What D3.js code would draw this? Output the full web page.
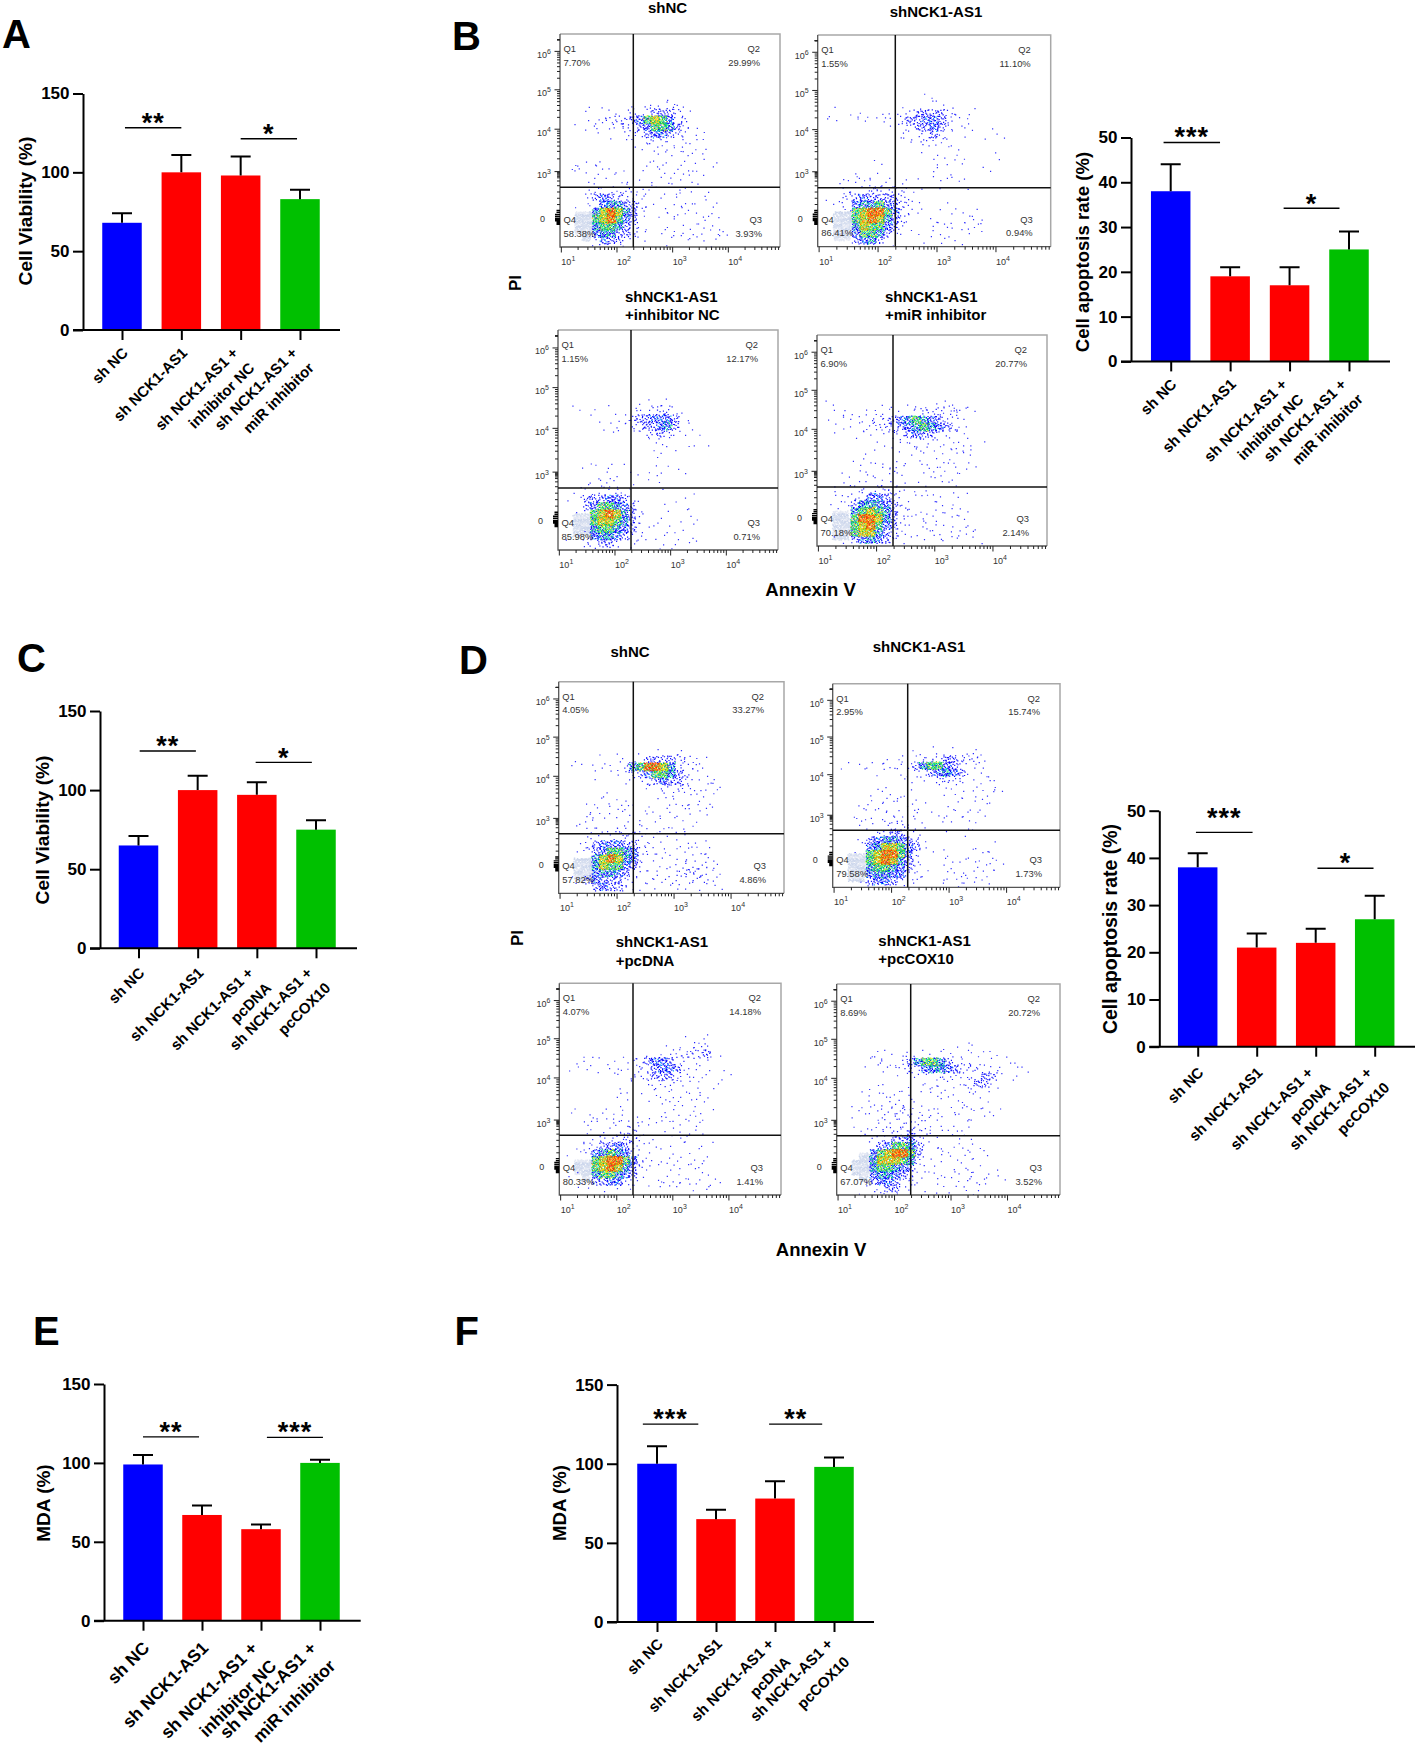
<!DOCTYPE html>
<html><head><meta charset="utf-8">
<script src="https://cdnjs.cloudflare.com/ajax/libs/d3/7.8.5/d3.min.js"></script>
<style>
html,body{margin:0;padding:0;background:#fff}
svg{display:block}
text{font-family:"Liberation Sans",Arial,sans-serif}
</style></head><body>
<script>
// ---------- bar chart data ----------
const catsInhib = ["sh NC","sh NCK1-AS1","sh NCK1-AS1 +\ninhibitor NC","sh NCK1-AS1 +\nmiR inhibitor"];
const catsCox   = ["sh NC","sh NCK1-AS1","sh NCK1-AS1 +\npcDNA","sh NCK1-AS1 +\npcCOX10"];
const barColors = ["#0000ff","#ff0000","#ff0000","#00c000"];
const valuesA = [68,100,98,83];  const upperA = [74,111,110,89];
const valuesB = [38,19,17,25];   const upperB = [44,21,21,29];
const valuesC = [65,100,97,75];  const upperC = [71,109,105,81];
const valuesD = [38,21,22,27];   const upperD = [41,24,25,32];
const valuesE = [99,67,58,100];  const upperE = [105,73,61,102];
const valuesF = [100,65,78,98];  const upperF = [111,71,89,104];
const ticks150 = [0,50,100,150];
const ticks50  = [0,10,20,30,40,50];
// significance: [from index, to index, level, stars]
const sigA = [[0.05,1.0,128.3,"**"],[2.0,2.95,121.3,"*"]];
const sigB = [[-0.12,0.83,48.9,"***"],[1.9,2.84,34.2,"*"]];
const sigC = [[0.02,0.97,124.7,"**"],[1.98,2.93,117.5,"*"]];
const sigD = [[-0.03,0.93,45.4,"***"],[2.03,2.98,37.8,"*"]];
const sigE = [[0,0.95,116.5,"**"],[2.1,3.05,116.2,"***"]];
const sigF = [[-0.24,0.7,125,"***"],[1.9,2.8,125,"**"]];

// ---------- flow cytometry data ----------
const flowTitles = [["shNC"],["shNCK1-AS1"],["shNCK1-AS1","+inhibitor NC"],["shNCK1-AS1","+miR inhibitor"],
                    ["shNC"],["shNCK1-AS1"],["shNCK1-AS1","+pcDNA"],["shNCK1-AS1","+pcCOX10"]];
const flowQ = [["7.70%","29.99%","3.93%","58.38%"],["1.55%","11.10%","0.94%","86.41%"],
               ["1.15%","12.17%","0.71%","85.98%"],["6.90%","20.77%","2.14%","70.18%"],
               ["4.05%","33.27%","4.86%","57.82%"],["2.95%","15.74%","1.73%","79.58%"],
               ["4.07%","14.18%","1.41%","80.33%"],["8.69%","20.72%","3.52%","67.07%"]];
// event density: one string per row (row 8 downward), one char per column,
// digit = density level, p = pale debris area
const gridB1 = ["",
"               1",
"            1 1 1",
"    1 11 12 233321",
"   1 1122234676421",
"    1 1 12 3466532 1",
"      1  1123443211",
"          1 1211 1 1",
"           1 1 1 1 1",
"            1 1 11 1",
"   1 1      1 1  1 1 1",
"  11 1 1      1 1 11",
"   1 1 1 1  1 1 1 1",
"     1  1 1 1 1 1 1",
"    11 1 2  1   1",
"    13432211  1 1 1 1",
"   1 24553321  1 1 1 1",
"  ppp5787531   1 1 1 1",
"  ppp6786431  1 1 1 1",
"  ppp5665321   1 1 1 1",
"   p 4553321  1 1 1 1 1",
"     24331 1   1 1 1 11"];
const gridB2 = ["",
"              1",
"              1 1",
"  1   1  1 12333321 1",
"  1  11 1112334432 1",
"           1233431 1",
"           1 12321 1  1 1",
"            1 211",
"              1 1 1",
"               1  1    1",
"        1       1 1",
"               1 1    1",
"    1 11       1  1",
"   1 1 1 1 1 1  1  1",
"    1112222 1",
"   1234333321",
"  1 24556432 1  1",
"  ppp6788642 1    1 1",
"  ppp6787532   1 1 1 1",
"  ppp5766431   1 1 1 1",
"  pp 466531  1 1 1 1 1",
"     3453 1   1 1 1"];
const gridB3 = ["","",
"           1 1 1",
"   1  1   1 12221",
"     1  1 23344431",
"       1111233453 1",
"            22321",
"             1 1  1 1",
"              1  1",
"              1",
"    1  1",
"      1   1  1 1 1",
"     1 1 1   1",
"    1 1 1 1   1",
"    111211",
"   13334431       1",
"  1 34665431   1 1",
"  ppp6787532   1  1",
"  ppp6776531 1  1  1",
"  ppp5665431  1",
"  1 245543211 1 1 1",
"    12332 1   1 1 1"];
const gridB4 = ["","",
"  1      1  11 1111",
"   11 1 1 1 1 2222211",
"  1 1 112234565431 1",
"   1 1 1122345654321",
"      111 1234332 11",
"        1 1 12 1 1 1 1",
"          1  1 1 1 11",
"       1     1   11 1",
"     1 1 1 1  1 1 1 1",
"      1 1 11  1 11 1",
"    1  1 1 1  1 1 1",
"   1 1 1 1 1  1 1 1",
"   1 1 12221 1 1",
"   1 224432 1  1 1 1",
"  1 1355543 1   1 1",
"  pp 5676532 1 1 1 1",
"  ppp6887532 1 1 1 1",
"  ppp6786431 1 11 1 1",
"  pp 6775321  1 1 1 1",
"   1 34543211 1 11 1 1"];
const gridD1 = ["","",
"              1 1",
"     1 1 1 233332211",
"  1 1  1 25688752 1",
"     1 1 1134665321 1",
"         1 12343321 1",
"            1 1221 1 1",
"      1       1 1 11 1",
"     1 1 1    1 1 1 1",
"    1 1 11  1  1 11 1",
"    11 1 1 1 1 1 1 1",
"   1 1 1 1  1 1 1 1",
"   1 1 1 1 1  1 1",
"    1 1 2212 1 1 1",
"   12344433 1 1 1 1 1",
"   1 3466542 1 1 1 1",
"  ppp5787542 1 1 1 11",
"  ppp5766431 1 1 2 2 1",
"  ppp4554321 1 1 222 1",
"  1 343332 1 1 2 2 2 1",
"    134332 1 1 1 1 1 1"];
const gridD2 = ["","",
"           1 1 1  1",
"       1 1  122332221",
"  1 11 1 113566431 1",
"      1  11 2345431 1",
"          1 1 2221 1 1",
"       1       1 1 1 11",
"      1 1 1    1 1 1 1",
"     1 1 1 1     1  1",
"    1 1 1 1 1   1 1 1",
"    1 1 11 1  1 1 1 1",
"   1 1 1 1 1   1  1",
"    1 1 221    1  1",
"      12332 1     1",
"    134554321",
"   1 4577643 1     1 1",
"  ppp6788642   1  1  1",
"  ppp6787532   1  1 1 1",
"  ppp5665431   1 1 1 1",
"  pp 45544211  1 1 1 1",
"    134432 1   1 21 1"];
const gridD3 = [
"                  1 1",
"               1 1121",
"             1 12 2231",
"   11 1 1 1234432 1",
"  1 1 1 1 11234431 1",
"        1 1 2333211 1  1",
"          1 1212 1 1  1",
"         1  1 1 1 1 1",
"        1    1 1 1 1",
"         1    1 1 1 1",
"  1   1 1     1 1 1 1",
"    11 11 1  1 1 1 1",
"    1 1 1111 1 1 1 1",
"    1 1 1121   1 1 1",
"    1 11222 1    1",
"   1 233432  1  1 1 1",
"  1 2456542  1 1 1",
"  ppp6788642 1  1 1 1",
"  ppp6787532 1 1 1 1",
"  1p 5665431  1  1 1 1",
"   1 334421  1 1 1 1 1",
"    1 1 1 1   1 1 1 1"];
const gridD4 = ["",
"                 1 1",
"     1 1  1 1 11 1 1 1",
"    1 21123566532 1 1 1 1",
"       1 12245543221 1  1",
"         11 1 2121 233 1 1",
"            1 1 1 2331",
"     1 1 1  1 1 1 1 1",
"    1 11 1 1 1 1 1 1",
"    1 1 2 1 1 1 1 1 1",
"   1 1 2 2 1 1  1 1 1 1",
"   1 1 1 2 2 1 1 1 1",
"   1 1 2 2 2 1 1 1",
"    1 1 2 3 2  1 1",
"    1 123342 1  1 1",
"     2346653 1 1 1 1",
"   pp4678863 1 1 1 1",
"  ppp5777652  1 1 1 1",
"  ppp5665431  1 1 1",
"   p 4554321 1 1 1 1 1",
"     3443221  1 1 2 1 1",
"    112331 1  1 1 1 1"];
const flowGrids = [gridB1,gridB2,gridB3,gridB4,gridD1,gridD2,gridD3,gridD4];
// decade positions on the PI axis (biexponential): axis units and fraction of the height
const piUnits = [-3,0,3,4,5,6,6.45];
const piFracs = [1,.867,.646,.447,.262,.0816,0];
const piMajor = [6,5,4,3];
const xMajor  = [10,100,1000,10000];
const panelLetters = ["A","B","C","D","E","F"];

// ---------- layout ----------
const W=1418,H=1746;
const svg=d3.select("body").append("svg").attr("width",W).attr("height",H).attr("viewBox",`0 0 ${W} ${H}`);
const barLayout=[
 {vals:valuesA,up:upperA,cats:catsInhib,sig:sigA,ticks:ticks150,max:150,ax:83,top:93.5,y0:330,c0:122,c3:300,end:340,title:"Cell Viability (%)",tx:31.7,ty:211,tf:19.2,lf:15,ld:20,l2:[-5.5,11,15],star:[11,10.5]},
 {vals:valuesB,up:upperB,cats:catsInhib,sig:sigB,ticks:ticks50,max:50,ax:1131,top:137.5,y0:361.4,c0:1170.7,c3:1349,end:1390,title:"Cell apoptosis rate (%)",tx:1089,ty:252,tf:18.6,lf:15,ld:20,l2:[-5.5,11,15],star:[11,10.5]},
 {vals:valuesC,up:upperC,cats:catsCox,sig:sigC,ticks:ticks150,max:150,ax:100,top:711,y0:948.3,c0:138.5,c3:316,end:357,title:"Cell Viability (%)",tx:48.7,ty:830,tf:19.2,lf:15,ld:21.7,l2:[-6.5,11.5,15],star:[11,10.5]},
 {vals:valuesD,up:upperD,cats:catsCox,sig:sigD,ticks:ticks50,max:50,ax:1159.3,top:810.7,y0:1046.7,c0:1197.7,c3:1374.7,end:1415,title:"Cell apoptosis rate (%)",tx:1116.7,ty:929,tf:19.5,lf:15,ld:23,l2:[-5.5,12,15],star:[20.5,11.5]},
 {vals:valuesE,up:upperE,cats:catsInhib,sig:sigE,ticks:ticks150,max:150,ax:104,top:1384,y0:1620.7,c0:143,c3:320,end:360.7,title:"MDA (%)",tx:49.7,ty:1503,tf:19,lf:17.5,ld:24,l2:[-7,12,18],star:[11,10]},
 {vals:valuesF,up:upperF,cats:catsCox,sig:sigF,ticks:ticks150,max:150,ax:617,top:1384.6,y0:1622,c0:657,c3:834,end:874,title:"MDA (%)",tx:565.5,ty:1503,tf:18.6,lf:15,ld:19,l2:[-4,12.5,18],star:[11,10]}
];
const flowLayout=[
 {l:560,r:780,t:34,b:247,v:633.3,h:187.3,tx:667.5,ty:[13],anchor:"middle"},
 {l:817.7,r:1050.7,t:35,b:246.7,v:895.3,h:187.7,tx:936,ty:[16.7],anchor:"middle"},
 {l:558,r:778,t:330,b:550,v:631,h:488,tx:625,ty:[301.7,320],anchor:"start"},
 {l:817,r:1047,t:335,b:546,v:893,h:487,tx:885,ty:[301.8,319.6],anchor:"start"},
 {l:558.7,r:784,t:681.7,b:893.3,v:633.3,h:833.7,tx:630,ty:[657],anchor:"middle"},
 {l:832.7,r:1060,t:683.7,b:887.3,v:907.7,h:830.3,tx:919,ty:[652],anchor:"middle"},
 {l:559.3,r:781,t:983.3,b:1195,v:633,h:1135.3,tx:615.7,ty:[947,966],anchor:"start"},
 {l:836.7,r:1060,t:984,b:1195,v:910.7,h:1135.7,tx:878.3,ty:[945.7,964.3],anchor:"start"}
];
const letterPos=[[2,48],[452,50],[17,671.7],[459,674],[33,1345],[454.5,1344.6]];

// ---------- bar panels ----------
barLayout.forEach(p=>{
  const g=svg.append("g");
  const y=d3.scaleLinear().domain([0,p.max]).range([p.y0,p.top]);
  const x=d3.scalePoint().domain(d3.range(p.cats.length)).range([p.c0,p.c3]);
  const xi=d3.scaleLinear().domain([0,p.cats.length-1]).range([p.c0,p.c3]);
  const bw=39.5,cap=10;
  g.selectAll("rect.bar").data(p.vals).join("rect").attr("class","bar")
    .attr("x",(d,i)=>x(i)-bw/2).attr("width",bw)
    .attr("y",d=>y(d)).attr("height",d=>y(0)-y(d))
    .attr("fill",(d,i)=>barColors[i]);
  g.selectAll("path.err").data(p.vals).join("path").attr("class","err")
    .attr("d",(d,i)=>{const a=d3.path();const u=y(p.up[i]);a.moveTo(x(i),y(d));a.lineTo(x(i),u);a.moveTo(x(i)-cap,u);a.lineTo(x(i)+cap,u);return a;})
    .attr("stroke","#000").attr("stroke-width",2).attr("fill","none");
  const ay=g.append("g").attr("transform",`translate(${p.ax},0)`)
    .call(d3.axisLeft(y).tickValues(p.ticks).tickSize(10).tickPadding(3.5).tickSizeOuter(0));
  ay.selectAll("path,line").attr("stroke","#000").attr("stroke-width",2);
  ay.selectAll("text").attr("font-size",17).attr("font-weight","bold").attr("fill","#000").style("font-family",'"Liberation Sans",Arial,sans-serif');
  const ax=g.append("g").attr("transform",`translate(0,${p.y0})`)
    .call(d3.axisBottom(x).tickSize(10).tickSizeOuter(0).tickFormat(""));
  ax.select("path").remove();
  ax.selectAll("line").attr("stroke","#000").attr("stroke-width",2);
  g.append("line").attr("x1",p.ax-10).attr("x2",p.end).attr("y1",p.y0).attr("y2",p.y0).attr("stroke","#000").attr("stroke-width",2);
  p.cats.forEach((c,i)=>{
    const lines=c.split("\n");
    lines.forEach((t,k)=>{
      const px=x(i)+(lines.length===1?3:(k===0?p.l2[0]:p.l2[1]));
      const py=p.y0+p.ld+k*p.l2[2];
      g.append("text").attr("transform",`translate(${px},${py}) rotate(-45)`)
        .attr("text-anchor","end").attr("dy","0.36em").attr("font-size",p.lf).attr("font-weight","bold").text(t);
    });
  });
  g.append("text").attr("transform",`translate(${p.tx},${p.ty}) rotate(-90)`).attr("text-anchor","middle")
    .attr("font-size",p.tf).attr("font-weight","bold").text(p.title);
  p.sig.forEach(s=>{
    const yy=y(s[2]);
    g.append("line").attr("x1",xi(s[0])).attr("x2",xi(s[1])).attr("y1",yy).attr("y2",yy).attr("stroke","#000").attr("stroke-width",1.4);
    const gap=s[3].length===1?p.star[1]:p.star[0];
    g.append("text").attr("x",(xi(s[0])+xi(s[1]))/2).attr("y",yy-gap+15).attr("text-anchor","middle").attr("font-size",27).attr("font-weight","bold").attr("letter-spacing",1).text(s[3]);
  });
});

// ---------- flow panels ----------
const levelCount={1:2,2:5,3:11,4:20,5:30,6:42,7:52,8:62,p:34};
const levelPal={1:["#3030ff"],2:["#2020ff"],3:["#1010ff"],4:["#0000ff","#0000ff","#0000ff","#0000ff","#00a0ff"],
  5:["#0000ff","#00c8c8","#0000ff","#00e060","#0000ff"],6:["#00d060","#0000ff","#ffe800","#00e8a0","#30d030"],
  7:["#ffd800","#30d030","#ff8000","#e8e800","#00c060"],8:["#ff2000","#ff8000","#ffc800","#ff4000","#30c030"],p:["#d6deef","#e4e8f4","#ccd6ec"]};
const cols=30,rowsN=30,rowStart=8;
const colShift=-0.6,rowShift=-0.5;
// radical inverse: fixed, evenly spread sub-cell order for the events counted in a cell
const radical=(n,b)=>{let f=1,r=0;while(n>0){f/=b;r+=f*(n%b);n=Math.floor(n/b);}return r;};

flowLayout.forEach((p,idx)=>{
  const g=svg.append("g");
  const fw=p.r-p.l,fh=p.b-p.t;
  const cx=d3.scaleLinear().domain([0,cols]).range([p.l,p.r]);
  const cy=d3.scaleLinear().domain([0,rowsN]).range([p.t,p.b]);
  const paths={};
  const put=(c,x,y,s)=>{(paths[c]=paths[c]||d3.path()).rect(x,y,s,s);};
  const dotLayer=g.append("g").style("filter","blur(0.3px)");
  flowGrids[idx].forEach((row,ri)=>{
    [...row].forEach((ch,ci)=>{
      if(ch===" ")return;
      const n=levelCount[ch],pal=levelPal[ch];
      const seed=(ci+1)*(ci+1)*7+(ri+1)*(ri+1)*11+ci*ri*13+ci*97+ri*59+idx*131+17;
      const sx=ch==="p"?0:colShift, sy=ch==="p"?0:rowShift;
      const wide=(ch==="1"||ch==="2")?1.9:1.15, high=(ch==="1"||ch==="2")?1.7:1.15;
      for(let k=0;k<n;k++){
        const u=radical(seed+k,2),v=radical(seed+k,3);
        const c=pal[(k+ci+ri)%pal.length];
        const cu=ci+0.5+(u-0.5)*wide+sx, cv=ri+rowStart+0.5+(v-0.5)*high+sy;
        put(c,cx(Math.max(0.1,cu)),cy(Math.min(rowsN-0.15,cv)),ch==="p"?1.5:1.2);
      }
    });
  });
  // pale first, so the coloured events sit on top
  Object.keys(paths).sort((a,b)=>(levelPal.p.includes(b)?1:0)-(levelPal.p.includes(a)?1:0)).forEach(c=>{
    dotLayer.append("path").attr("d",paths[c].toString()).attr("fill",c);
  });
  // frame
  g.append("path").attr("d",`M${p.l},${p.t}H${p.r}V${p.b}`).attr("fill","none").attr("stroke","#a8a8a8").attr("stroke-width",1.5);
  g.append("path").attr("d",`M${p.l},${p.t}V${p.b}H${p.r}`).attr("fill","none").attr("stroke","#555").attr("stroke-width",1.3);
  // x axis (log)
  const decades=fw/(0.253*fw);
  const xS=d3.scaleLog().domain([Math.pow(10,0.976),Math.pow(10,0.976+decades)]).range([p.l,p.r]);
  const xm=[];
  xMajor.forEach(m=>{for(let k=2;k<=9;k++){if(m*k<xS.domain()[1])xm.push(m*k);}});
  const tk=d3.path();
  xMajor.forEach(m=>{tk.moveTo(xS(m),p.b);tk.lineTo(xS(m),p.b+5.5);});
  xm.forEach(m=>{tk.moveTo(xS(m),p.b);tk.lineTo(xS(m),p.b+3);});
  g.append("path").attr("d",tk.toString()).attr("stroke","#222").attr("stroke-width",1).attr("fill","none");
  xMajor.forEach((m,i)=>{
    const t=g.append("text").attr("x",xS(m)+7).attr("y",p.b+18).attr("text-anchor","middle").attr("font-size",9).attr("fill","#333");
    t.append("tspan").text("10");
    t.append("tspan").attr("dy",-4).attr("font-size",7).text(i+1);
  });
  // y axis (biexponential)
  const yS=d3.scaleLinear().domain(piUnits).range(piFracs.map(f=>p.t+f*fh));
  const ty=d3.path();
  piMajor.forEach(m=>{ty.moveTo(p.l,yS(m));ty.lineTo(p.l-5.5,yS(m));
    for(let k=2;k<=9;k++){const u=m-1+Math.log10(k);if(u>=2.6){ty.moveTo(p.l,yS(u));ty.lineTo(p.l-3,yS(u));}}
    for(let k=2;k<=9;k++){const u=6+Math.log10(k);if(u<=6.4){ty.moveTo(p.l,yS(u));ty.lineTo(p.l-3,yS(u));}}
  });
  [0.9,1.3,1.7,2.1,2.4].forEach(u=>{ty.moveTo(p.l,yS(u));ty.lineTo(p.l-3,yS(u));});
  g.append("path").attr("d",ty.toString()).attr("stroke","#222").attr("stroke-width",1).attr("fill","none");
  const tz=d3.path();
  d3.range(-0.6,0.62,0.125).forEach(u=>{tz.moveTo(p.l,yS(u));tz.lineTo(p.l-(Math.abs(u)<0.3?5:3.5),yS(u));});
  g.append("path").attr("d",tz.toString()).attr("stroke","#000").attr("stroke-width",1.4).attr("fill","none");
  piMajor.forEach(m=>{
    const t=g.append("text").attr("x",p.l-9).attr("y",yS(m)+6.5).attr("text-anchor","end").attr("font-size",9).attr("fill","#333");
    t.append("tspan").text("10");
    t.append("tspan").attr("dy",-4).attr("font-size",7).text(m);
  });
  g.append("text").attr("x",p.l-15).attr("y",yS(0)+3).attr("text-anchor","end").attr("font-size",9).attr("fill","#333").text("0");
  // gates
  g.append("line").attr("x1",p.v).attr("x2",p.v).attr("y1",p.t).attr("y2",p.b).attr("stroke","#111").attr("stroke-width",1.5);
  g.append("line").attr("x1",p.l).attr("x2",p.r).attr("y1",p.h).attr("y2",p.h).attr("stroke","#111").attr("stroke-width",1.5);
  // quadrant labels
  const q=flowQ[idx];
  const lab=(x,y,a,t)=>g.append("text").attr("x",x).attr("y",y).attr("text-anchor",a).attr("font-size",9.4).attr("fill","#333").text(t);
  lab(p.l+3.5,p.t+18,"start","Q1");lab(p.l+3.5,p.t+31.5,"start",q[0]);
  lab(p.r-20,p.t+18,"end","Q2");lab(p.r-20,p.t+31.5,"end",q[1]);
  lab(p.r-18,p.b-24,"end","Q3");lab(p.r-18,p.b-10.5,"end",q[2]);
  lab(p.l+3.5,p.b-24,"start","Q4");lab(p.l+3.5,p.b-10.5,"start",q[3]);
  // title
  flowTitles[idx].forEach((t,i)=>{
    g.append("text").attr("x",p.tx).attr("y",p.ty[i]).attr("text-anchor",p.anchor).attr("font-size",15).attr("font-weight","bold").text(t);
  });
});

// ---------- shared labels ----------
[["PI",520.7,283],["PI",523,938]].forEach(d=>{
  svg.append("text").attr("transform",`translate(${d[1]},${d[2]}) rotate(-90)`).attr("text-anchor","middle").attr("font-size",17).attr("font-weight","bold").text(d[0]);
});
[["Annexin V",810.5,596],["Annexin V",821,1256]].forEach(d=>{
  svg.append("text").attr("x",d[1]).attr("y",d[2]).attr("text-anchor","middle").attr("font-size",18.5).attr("font-weight","bold").text(d[0]);
});
panelLetters.forEach((t,i)=>{
  svg.append("text").attr("x",letterPos[i][0]).attr("y",letterPos[i][1]).attr("font-size",40).attr("font-weight","bold").text(t);
});
</script>
</body></html>
